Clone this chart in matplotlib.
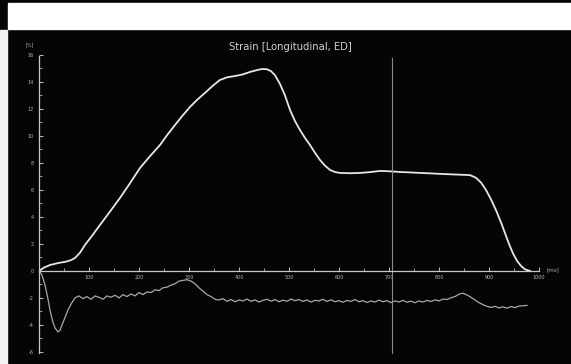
import matplotlib.pyplot as plt
from matplotlib.patches import Rectangle

# strain curve (upper, white) - time [ms], strain [%]
upper_t = [0, 10, 22, 40, 52, 64, 72, 82, 92, 106, 122, 142, 162, 182, 202, 222, 242,
           257, 272, 287, 302, 317, 332, 347, 362, 377, 392, 407, 422, 436, 446, 456,
           464, 472, 482, 492, 502, 512, 522, 532, 542, 552, 562, 572, 582, 592, 602,
           622, 642, 662, 682, 702, 722, 742, 762, 782, 802, 822, 842, 862, 874, 884,
           894, 904, 914, 924, 932, 940, 948, 956, 964, 972, 982]
upper_v = [0, 0.25, 0.44, 0.6, 0.67, 0.8, 0.96, 1.35, 1.93, 2.6, 3.41, 4.4, 5.41, 6.5,
           7.63, 8.5, 9.33, 10.1, 10.81, 11.5, 12.15, 12.7, 13.19, 13.7, 14.15, 14.35,
           14.44, 14.55, 14.74, 14.88, 14.96, 14.94, 14.8, 14.5, 13.85, 13.0, 11.93,
           11.1, 10.44, 9.85, 9.33, 8.75, 8.22, 7.8, 7.48, 7.33, 7.26, 7.24, 7.26, 7.32,
           7.41, 7.38, 7.33, 7.3, 7.26, 7.23, 7.19, 7.16, 7.13, 7.1, 6.9, 6.55, 6.0, 5.3,
           4.5, 3.6, 2.8, 2.0, 1.3, 0.75, 0.37, 0.12, 0]

# strain curve (lower, grey)
lower_t = [0, 6, 12, 17, 22, 27, 32, 38, 42, 46, 52, 58, 65, 72, 80, 88, 96, 104, 112,
           120, 128, 136, 144, 152, 160, 168, 176, 184, 192, 200, 208, 216, 224, 232,
           240, 248, 256, 264, 272, 280, 288, 296, 304, 312, 320, 328, 336, 344, 352,
           360, 368, 376, 384, 392, 400, 408, 416, 424, 432, 440, 448, 456, 464, 472,
           480, 488, 496, 504, 512, 520, 528, 536, 544, 552, 560, 568, 576, 584, 592,
           600, 608, 616, 624, 632, 640, 648, 656, 664, 672, 680, 688, 696, 704, 712,
           720, 728, 736, 744, 752, 760, 768, 776, 784, 792, 800, 808, 816, 824, 832,
           840, 848, 856, 864, 872, 880, 888, 896, 904, 912, 920, 928, 936, 944, 952,
           960, 968, 976]
lower_v = [0, -0.3, -1.04, -1.9, -2.89, -3.7, -4.22, -4.52, -4.4, -4.0, -3.45, -2.89,
           -2.4, -2.0, -1.85, -2.05, -1.9, -2.1, -1.85, -1.95, -2.1, -1.85, -1.95, -1.8,
           -2.0, -1.75, -1.9, -1.7, -1.85, -1.6, -1.75, -1.55, -1.6, -1.4, -1.45, -1.25,
           -1.2, -1.05, -0.95, -0.75, -0.7, -0.65, -0.75, -0.95, -1.25, -1.5, -1.75, -1.9,
           -2.1, -2.15, -2.05, -2.25, -2.12, -2.28, -2.15, -2.22, -2.08, -2.25, -2.14,
           -2.3, -2.18, -2.1, -2.24, -2.12, -2.28, -2.16, -2.25, -2.08, -2.2, -2.12,
           -2.26, -2.15, -2.3, -2.18, -2.22, -2.1, -2.26, -2.14, -2.28, -2.2, -2.32,
           -2.18, -2.25, -2.12, -2.28, -2.2, -2.34, -2.22, -2.3, -2.16, -2.28, -2.2,
           -2.35, -2.22, -2.3, -2.18, -2.32, -2.24, -2.36, -2.22, -2.3, -2.18, -2.26,
           -2.14, -2.22, -2.08, -2.12, -1.98, -1.9, -1.72, -1.65, -1.78, -1.95, -2.15,
           -2.35, -2.5, -2.62, -2.7, -2.62, -2.74, -2.66, -2.76, -2.64, -2.72, -2.6,
           -2.58, -2.55]

marker_t = 706  # vertical cursor [ms]
x_major = list(range(100, 1001, 100))
x_minor = list(range(0, 1001, 50))
y_major = [-6, -4, -2, 0, 2, 4, 6, 8, 10, 12, 14, 16]
y_minor = list(range(-6, 17))

fig = plt.figure(figsize=(5.71, 3.64), dpi=100)
fig.patch.set_facecolor('#050505')
W, H = 571, 364
# white band at the top and strip on the left (screenshot frame)
fig.patches.append(Rectangle((8 / W, 1 - 29 / H), 1, 26 / H, transform=fig.transFigure,
                             color='white', zorder=-1))
fig.patches.append(Rectangle((0, 0), 7 / W, 1 - 30 / H, transform=fig.transFigure,
                             color='#f2f2f2', zorder=-1))

ax = fig.add_axes([39 / W, 8 / H, 526 / W, 303.75 / H])
ax.set_facecolor('none')
ax.set_xlim(0, 1052)
ax.set_ylim(-6.3, 16.2)

ax.plot(upper_t, upper_v, color='#e6e6e6', lw=1.3, solid_joinstyle='round')
ax.plot(lower_t, lower_v, color='#a8a8a8', lw=0.9)
ax.axvline(marker_t, ymin=0.01, ymax=0.98, color='#8c8a78', lw=0.8)

for s in ['top', 'right']:
    ax.spines[s].set_visible(False)
ax.spines['bottom'].set_position(('data', 0))
ax.spines['bottom'].set_bounds(0, 1000)
ax.spines['left'].set_bounds(-6.1, 15.9)
for s in ['bottom', 'left']:
    ax.spines[s].set_color('#c8c8c8')
    ax.spines[s].set_linewidth(0.9)

ax.set_xticks(x_major)
ax.set_xticks(x_minor, minor=True)
ax.set_yticks(y_major)
ax.set_yticks(y_minor, minor=True)
ax.set_yticklabels([str(v) for v in y_major])
ax.tick_params(colors='#b4b4b4', labelsize=3.5, direction='in', length=3, width=0.8, pad=4)
ax.tick_params(which='minor', colors='#b4b4b4', direction='in', length=2, width=0.6)
ax.tick_params(axis='x', pad=3)

fig.text(290 / W, 1 - 47 / H, 'Strain [Longitudinal, ED]', ha='center', va='center',
         color='#cfcfcf', fontsize=7.2)
fig.text(30 / W, 1 - 45 / H, '[%]', ha='center', va='center', color='#b4b4b4', fontsize=3.5)
fig.text(553 / W, 1 - 270 / H, '[ms]', ha='center', va='center', color='#b4b4b4', fontsize=4)

fig.savefig('out.png', dpi=100, facecolor=fig.get_facecolor())
